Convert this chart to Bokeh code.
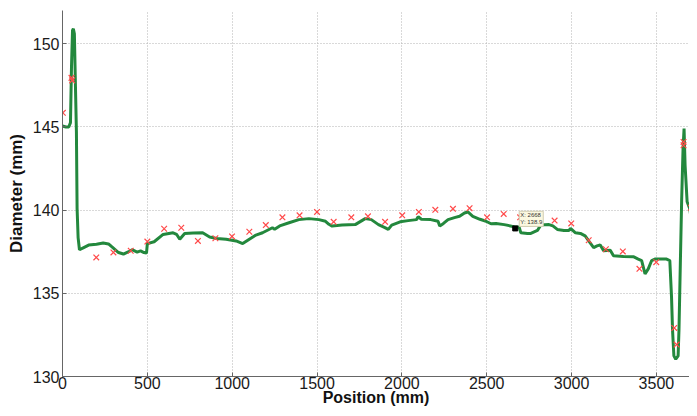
from bokeh.plotting import figure
from bokeh.models import FixedTicker, Range1d, Label
from bokeh.embed import file_html
from bokeh.resources import INLINE

# Measured profile (green line)
pos_mm = [0, 20, 37, 47, 53, 59, 64, 70, 76, 82, 86, 92, 100, 125, 154, 200, 240, 271, 290, 330,
          359, 390, 410, 440, 460, 480, 495, 500, 540, 593, 652, 672, 691, 720, 770, 826, 867, 910,
          964, 1023, 1062, 1101, 1140, 1179, 1237, 1250, 1280, 1335, 1393, 1452, 1511, 1550, 1570,
          1589, 1647, 1725, 1784, 1820, 1862, 1900, 1920, 1940, 1990, 2037, 2086, 2096, 2115, 2170,
          2213, 2223, 2245, 2272, 2310, 2340, 2369, 2389, 2418, 2460, 2496, 2525, 2555, 2603, 2640,
          2671, 2691, 2701, 2740, 2760, 2799, 2818, 2867, 2890, 2916, 2955, 2984, 2994, 3023, 3052,
          3080, 3101, 3130, 3150, 3169, 3189, 3228, 3247, 3306, 3364, 3393, 3413, 3433, 3452, 3472,
          3491, 3560, 3579, 3589, 3595, 3603, 3614, 3628, 3633, 3641, 3649, 3657, 3663, 3669, 3681,
          3696, 3716]
diameter_mm = [145.06, 145.0, 145.0, 145.26, 148.6, 150.8, 150.9, 150.6, 147.6, 144.7, 140.1, 138.35,
               137.62, 137.75, 137.9, 137.95, 138.02, 137.97, 137.8, 137.45, 137.36, 137.5, 137.62,
               137.48, 137.55, 137.45, 137.42, 137.99, 138.1, 138.54, 138.64, 138.55, 138.25, 138.6,
               138.62, 138.64, 138.39, 138.3, 138.25, 138.15, 137.99, 138.25, 138.5, 138.64, 138.94,
               138.85, 139.05, 139.24, 139.43, 139.49, 139.43, 139.33, 139.15, 139.04, 139.1, 139.13,
               139.49, 139.43, 139.13, 138.95, 138.84, 139.1, 139.3, 139.37, 139.43, 139.6, 139.45,
               139.43, 139.33, 139.04, 139.2, 139.43, 139.55, 139.63, 139.83, 139.89, 139.63, 139.45,
               139.33, 139.18, 139.2, 139.13, 139.05, 138.98, 138.98, 138.64, 138.6, 138.6, 138.78,
               139.1, 139.13, 139.05, 138.84, 138.78, 138.78, 138.9, 138.64, 138.6, 138.45, 138.15,
               137.75, 137.85, 137.91, 137.56, 137.59, 137.26, 137.22, 137.2, 137.06, 136.97, 136.17,
               136.47, 136.97, 137.06, 137.06, 136.97, 134.8, 132.8, 131.24, 131.04, 131.24, 132.8,
               136.8, 140.7, 143.7, 144.9, 142.7, 140.5, 140.1, 138.7]

# Reference samples (red crosses)
ref_pos = [2, 53, 57, 199, 300, 402, 500, 599, 700, 798, 901, 999, 1101, 1198, 1296, 1397, 1500,
           1598, 1702, 1800, 1901, 2002, 2100, 2197, 2301, 2399, 2502, 2600, 2697, 2900, 2998, 3101,
           3202, 3302, 3400, 3499, 3605, 3619, 3660, 3660, 3703]
ref_diam = [145.85, 147.95, 147.8, 137.16, 137.46, 137.56, 138.11, 138.88, 138.94, 138.15, 138.31,
            138.42, 138.7, 139.1, 139.57, 139.69, 139.89, 139.3, 139.57, 139.63, 139.3, 139.69,
            139.89, 140.02, 140.08, 140.12, 139.57, 139.77, 139.57, 139.37, 139.2, 138.19, 137.65,
            137.52, 136.47, 136.87, 132.92, 131.92, 144.1, 143.9, 140.15]

x_ticks = [0, 500, 1000, 1500, 2000, 2500, 3000, 3500]
y_ticks = [130, 135, 140, 145, 150]

tip_x = 2668
tip_y = 138.9
tip_text = "X: 2668\nY: 138.9"

p = figure(width=689, height=408, output_backend="svg", toolbar_location=None,
           x_range=Range1d(0, 3695), y_range=Range1d(130, 152),
           min_border_left=62, min_border_right=0, min_border_top=10, min_border_bottom=27)
p.outline_line_color = None
p.background_fill_color = "white"

for ax in (p.xaxis[0], p.yaxis[0]):
    ax.axis_line_color = "#666666"
    ax.major_tick_line_color = "#666666"
    ax.major_tick_in = 4
    ax.major_tick_out = 0
    ax.minor_tick_line_color = None
    ax.major_label_text_font = "Liberation Sans"
    ax.major_label_text_font_size = "16px"
    ax.major_label_text_color = "#1a1a1a"
    ax.axis_label_text_font = "Liberation Sans"
    ax.axis_label_text_font_style = "bold"
    ax.axis_label_text_font_size = "17px"
    ax.axis_label_text_color = "#111111"

p.xaxis.axis_label_text_font_size = "16px"
p.xaxis.ticker = FixedTicker(ticks=x_ticks)
p.yaxis.ticker = FixedTicker(ticks=y_ticks)
p.xaxis.axis_label = "Position (mm)"
p.yaxis.axis_label = "Diameter (mm)"
p.xaxis.major_label_standoff = 0
p.xaxis.axis_label_standoff = -3
p.yaxis.major_label_standoff = 3
p.yaxis.axis_label_standoff = 4

for g in (p.xgrid[0], p.ygrid[0]):
    g.grid_line_color = "#b3b3b3"
    g.grid_line_dash = "1 2"
    g.grid_line_width = 1

p.line(pos_mm, diameter_mm, line_width=3, line_color="#23883d")
p.scatter(ref_pos, ref_diam, marker="x", size=8, line_color="#ff4a4a", line_width=1.2)

p.scatter([tip_x], [tip_y], marker="square", size=5, fill_color="black", line_color="black")
p.add_layout(Label(x=tip_x, y=tip_y, x_offset=4, y_offset=2, text=tip_text,
                   text_font="Liberation Sans", text_font_size="6px",
                   text_color="#333333", background_fill_color="#fbf8e0",
                   border_line_color="#d0ccb0", padding=1))

open("out.html", "w").write(file_html(p, INLINE))
